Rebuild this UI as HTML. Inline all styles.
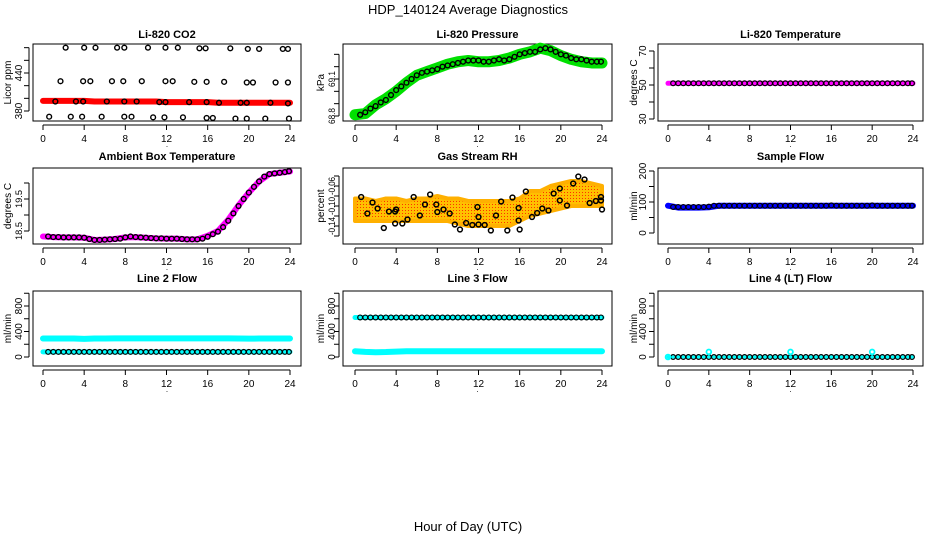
<!DOCTYPE html>
<html><head><meta charset="utf-8"><style>
html,body{margin:0;padding:0;background:#fff;}
svg{display:block;font-family:"Liberation Sans",Arial,sans-serif;}
</style></head><body>
<svg id="chart" width="936" height="540" viewBox="0 0 936 540">
<text x="468" y="14" text-anchor="middle" font-size="13">HDP_140124  Average Diagnostics</text>
<text x="468" y="531" text-anchor="middle" font-size="13">Hour of Day (UTC)</text>
</svg>
<script>
// ---- data ----
const xTicks = [0,4,8,12,16,20,24];
const hourly = [0,1,2,3,4,5,6,7,8,9,10,11,12,13,14,15,16,17,18,19,20,21,22,23,24];
const halfHours = [0.5,1,1.5,2,2.5,3,3.5,4,4.5,5,5.5,6,6.5,7,7.5,8,8.5,9,9.5,10,10.5,11,11.5,12,12.5,13,13.5,14,14.5,15,15.5,16,16.5,17,17.5,18,18.5,19,19.5,20,20.5,21,21.5,22,22.5,23,23.5,23.9];

const co2Band = [396,396,396,396,396,395,395,395,395,395,395,395,394,394,394,394,394,393,393,393,393,393,393,393,393];
const co2Hours = [2.2,4.0,5.1,7.2,7.9,10.2,11.9,13.1,15.2,15.8,18.2,19.9,21.0,23.3,23.8,
 1.7,3.9,4.6,6.7,7.8,9.6,11.9,12.6,14.7,15.9,17.6,19.8,20.4,22.6,23.8,
 1.2,3.2,3.9,6.2,7.9,9.1,11.3,11.9,14.2,15.9,17.1,19.2,19.8,22.1,23.8,
 0.6,2.7,3.8,5.7,7.9,8.6,10.7,11.8,13.6,15.9,16.5,18.7,19.8,21.6,23.9];
const co2Vals = [480,480,480,480,480,480,480,480,479,479,479,478,478,478,478,
 427,427,427,427,427,427,427,427,426,426,426,425,425,425,425,
 395,395,395,395,395,395,394,394,394,394,393,393,393,393,392,
 371,371,371,371,371,371,370,370,370,369,369,368,368,368,368];

const presBand = [68.81,68.82,68.89,68.94,69.00,69.07,69.13,69.16,69.19,69.22,69.24,69.25,69.24,69.24,69.25,69.27,69.30,69.32,69.35,69.33,69.29,69.26,69.24,69.23,69.23];
const presPts = [68.81,68.83,68.86,68.88,68.91,68.93,68.97,69.01,69.04,69.07,69.10,69.13,69.15,69.16,69.17,69.18,69.20,69.21,69.22,69.23,69.24,69.25,69.25,69.25,69.24,69.24,69.25,69.26,69.25,69.26,69.28,69.30,69.31,69.32,69.32,69.34,69.35,69.34,69.32,69.30,69.29,69.27,69.26,69.26,69.25,69.24,69.24,69.24];

const tempBand = [51,51,51,51,51,51,51,51,51,51,51,51,51,51,51,51,51,51,51,51,51,51,51,51,51];
const tempPts = [51,51,51,51,51,51,51,51,51,51,51,51,51,51,51,51,51,51,51,51,51,51,51,51,51,51,51,51,51,51,51,51,51,51,51,51,51,51,51,51,51,51,51,51,51,51,51,51];

const ambBand = [18.33,18.31,18.30,18.30,18.29,18.22,18.23,18.25,18.30,18.31,18.29,18.27,18.26,18.26,18.24,18.24,18.35,18.50,18.85,19.30,19.70,20.05,20.28,20.32,20.36];
const ambPts = [18.33,18.31,18.31,18.30,18.30,18.30,18.30,18.29,18.25,18.22,18.22,18.23,18.24,18.25,18.26,18.30,18.33,18.31,18.30,18.29,18.28,18.27,18.27,18.26,18.26,18.26,18.25,18.24,18.24,18.24,18.26,18.32,18.40,18.48,18.62,18.82,19.05,19.28,19.50,19.70,19.88,20.05,20.20,20.28,20.30,20.32,20.34,20.37];

const rhUpper = [-0.085,-0.085,-0.09,-0.085,-0.085,-0.09,-0.085,-0.085,-0.08,-0.085,-0.085,-0.09,-0.09,-0.09,-0.09,-0.09,-0.085,-0.07,-0.07,-0.06,-0.055,-0.05,-0.05,-0.055,-0.06];
const rhLower = [-0.13,-0.13,-0.13,-0.13,-0.13,-0.13,-0.13,-0.13,-0.13,-0.13,-0.135,-0.14,-0.14,-0.14,-0.14,-0.14,-0.13,-0.12,-0.115,-0.11,-0.105,-0.1,-0.1,-0.1,-0.1];
const rhHours = [0.6,1.2,1.7,2.2,2.8,3.3,3.9,4.0,3.9,4.6,5.1,5.7,6.3,6.8,7.3,7.9,8.0,8.6,9.2,9.7,10.2,10.8,11.4,11.9,12.0,12.0,12.6,13.2,13.7,14.2,14.8,15.3,15.9,15.9,16.0,16.6,17.2,17.7,18.2,18.8,19.3,19.9,19.9,20.6,21.2,21.7,22.3,22.8,23.4,23.9,23.9,24.0];
const rhVals = [-0.082,-0.115,-0.093,-0.105,-0.144,-0.111,-0.111,-0.107,-0.135,-0.135,-0.127,-0.082,-0.119,-0.097,-0.077,-0.097,-0.112,-0.107,-0.115,-0.137,-0.147,-0.134,-0.138,-0.102,-0.122,-0.137,-0.138,-0.149,-0.119,-0.091,-0.149,-0.083,-0.104,-0.129,-0.147,-0.071,-0.122,-0.114,-0.105,-0.109,-0.075,-0.065,-0.089,-0.099,-0.055,-0.041,-0.047,-0.094,-0.090,-0.089,-0.082,-0.107];

const sampleBand = [88,82,82,82,83,88,88,88,88,88,88,88,88,88,88,88,88,88,88,88,88,88,88,88,88];
const samplePts = [84,84,84,84,84,84,84,85,88,88,88,88,88,88,88,88,88,88,88,88,88,88,88,88,88,88,88,88,88,88,88,89,88,88,88,88,88,88,88,89,88,88,88,88,88,88,88,88];

const l2Cyan = [290,290,290,290,285,290,290,292,292,292,292,292,292,292,292,292,292,292,292,290,288,290,290,290,290];
const l2Black = [80,80,80,80,80,80,80,80,80,80,80,80,80,80,80,80,80,80,80,80,80,80,80,80,80,80,80,80,80,80,80,80,80,80,80,80,80,80,80,80,80,80,80,80,80,80,80,80];
const l3CyanTop = [620,620,620,620,620,620,620,620,620,620,620,620,620,620,620,620,620,620,620,620,620,620,620,620,620];
const l3CyanLow = [90,80,75,78,85,90,90,90,90,90,90,90,90,90,90,90,90,90,90,90,90,90,90,90,90];
const l3Black = [620,620,620,620,620,620,620,620,620,620,620,620,620,620,620,620,620,620,620,620,620,620,620,620,620,620,620,620,620,620,620,620,620,620,620,620,620,620,620,620,620,620,620,620,620,620,620,620];
const l4Black = [0,0,0,0,0,0,0,0,0,0,0,0,0,0,0,0,0,0,0,0,0,0,0,0,0,0,0,0,0,0,0,0,0,0,0,0,0,0,0,0,0,0,0,0,0,0,0,0];
const l4CyanHours = [0,4,12,20];
const l4CyanVals = [0,80,80,80];

// ---- layout ----
const NS = "http://www.w3.org/2000/svg";
const svg = document.getElementById('chart');
function mk(tag, attrs, parent){ const e=document.createElementNS(NS,tag); for(const k in attrs) e.setAttribute(k,attrs[k]); (parent||svg).appendChild(e); return e; }

const cols=[{l:33,r:301,x0:43,x24:290,lab:19,tit:7},{l:343,r:612,x0:355,x24:602,lab:332,tit:320},{l:658,r:923,x0:668,x24:913,lab:643,tit:633}];
const rows=[{t:44,b:121,ti:38},{t:168,b:244,ti:160},{t:291,b:366,ti:282}];

function makePanel(name,ci,ri,title,ytitle,v1,y1,v2,y2,ticks,labels,fmt,lblLen){
  const c=cols[ci], r=rows[ri];
  const g=mk('g',{});
  
  
  const p={g, xs:h=>c.x0+(c.x24-c.x0)*h/24, ys:v=>y1+(v-v1)*(y2-y1)/(v2-v1)};
  const t=mk('text',{x:(c.l+c.r)/2,y:r.ti,'text-anchor':'middle','font-size':11,'font-weight':'bold'},g);
  t.textContent=title;
  
  
  const yt=mk('text',{x:0,y:0,'text-anchor':'middle','font-size':10,transform:`translate(${c.tit+4},${(r.t+r.b)/2}) rotate(-90)`},g);
  yt.textContent=ytitle;
  
  
  const box=mk('rect',{x:c.l,y:r.t,width:c.r-c.l,height:r.b-r.t,fill:'none',stroke:'#000','stroke-width':1},g);
  
  
  const bx=r.b+4;
  mk('line',{x1:p.xs(0),x2:p.xs(24),y1:bx,y2:bx,stroke:'#000'},g);
  xTicks.forEach(h=>{
    mk('line',{x1:p.xs(h),x2:p.xs(h),y1:bx,y2:bx+5,stroke:'#000'},g);
    const tl=mk('text',{x:p.xs(h),y:bx+17,'text-anchor':'middle','font-size':10},g);
    tl.textContent=h;
    
    
  });
  const dot=mk('text',{x:(c.l+c.r)/2,y:bx+22,'text-anchor':'middle','font-size':8},g); dot.textContent='.';
  const ax=c.l-4;
  mk('line',{x1:ax,x2:ax,y1:p.ys(ticks[0]),y2:p.ys(ticks[ticks.length-1]),stroke:'#000'},g);
  ticks.forEach(v=>mk('line',{x1:ax-5,x2:ax,y1:p.ys(v),y2:p.ys(v),stroke:'#000'},g));
  labels.forEach(v=>{
    const at={x:0,y:0,'text-anchor':'middle','font-size':10,transform:`translate(${c.lab+3},${p.ys(v)}) rotate(-90)`};
    if(lblLen){ at['textLength']=lblLen; at['lengthAdjust']='spacingAndGlyphs'; at['font-size']=9; }
    const yl=mk('text',at,g);
    yl.textContent=fmt?fmt(v):v;
    
    
  });
  return p;
}
function band(p,xs,vals,color,w,name){
  const pl=mk('polyline',{points:xs.map((h,i)=>p.xs(h)+','+p.ys(vals[i])).join(' '),fill:'none',stroke:color,'stroke-width':w,'stroke-linejoin':'round','stroke-linecap':'round'},p.g);
  
  
}
function circles(p,xs,vals,color,name,sw){
  const g=mk('g',{},p.g);
  
  
  xs.forEach((h,i)=>mk('circle',{cx:p.xs(h),cy:p.ys(vals[i]),r:2.4,fill:'none',stroke:color,'stroke-width':sw||1.4},g));
}

const f2=v=>v.toFixed(2), f1=v=>v.toFixed(1);
let p;
p=makePanel('co2',0,0,'Li-820 CO2','Licor ppm',380,111,440,73,[380,400,420,440,460,480],[380,440]);
band(p,hourly,co2Band,'#ff0000',6,'co2-band');
circles(p,co2Hours,co2Vals,'#000','co2-points');

p=makePanel('pressure',1,0,'Li-820 Pressure','kPa',68.8,116,69.1,79,[68.8,68.9,69.0,69.1,69.2,69.3],[68.8,69.1],f1,16);
band(p,hourly,presBand,'#00e000',11,'pressure-band');
circles(p,halfHours,presPts,'#000','pressure-points');

p=makePanel('temperature',2,0,'Li-820 Temperature','degrees C',30,119,70,51,[30,40,50,60,70],[30,50,70]);
band(p,hourly,tempBand,'#ff00ff',5,'temperature-band');
circles(p,halfHours,tempPts,'#000','temperature-points',1.2);

p=makePanel('ambient',0,1,'Ambient Box Temperature','degrees C',18.5,231,19.5,199,[18.5,19.0,19.5,20.0],[18.5,19.5],f1,18);
band(p,hourly,ambBand,'#ff00ff',6,'ambient-band');
circles(p,halfHours,ambPts,'#000','ambient-points');

p=makePanel('rh',1,1,'Gas Stream RH','percent',-0.06,186,-0.14,226,[-0.04,-0.06,-0.08,-0.10,-0.12,-0.14,-0.16],[-0.06,-0.10,-0.14],f2,18);
{
  const pts=hourly.map((h,i)=>p.xs(h)+','+p.ys(rhUpper[i])).concat(hourly.slice().reverse().map((h,j)=>{const i=hourly.length-1-j;return p.xs(h)+','+p.ys(rhLower[i]);}));
  const defs=mk('defs',{},p.g);
  const pat=mk('pattern',{id:'rhpat',width:3,height:3,patternUnits:'userSpaceOnUse'},defs);
  mk('rect',{width:3,height:3,fill:'#ffc000'},pat);
  mk('rect',{width:1,height:1,fill:'#ff3000'},pat);
  const pg=mk('polygon',{points:pts.join(' '),fill:'url(#rhpat)',stroke:'#ffb000','stroke-width':4,'stroke-linejoin':'round'},p.g);
  
  
}
circles(p,rhHours,rhVals,'#000','rh-points',1.5);

p=makePanel('sample-flow',2,1,'Sample Flow','ml/min',0,233,200,171,[0,50,100,150,200],[0,100,200]);
band(p,hourly,sampleBand,'#0000ff',6,'sample-band');
circles(p,halfHours,samplePts,'#000','sample-points',1.2);

p=makePanel('line2',0,2,'Line 2 Flow','ml/min',0,357,800,306,[0,200,400,600,800,1000],[0,400,800]);
band(p,hourly,l2Cyan,'#00ffff',6,'line2-cyan-band');
band(p,hourly,l2Black.slice(0,25),'#00ffff',5,'line2-cyan-low');
circles(p,halfHours,l2Black,'#000','line2-points',1.2);

p=makePanel('line3',1,2,'Line 3 Flow','ml/min',0,357,800,306,[0,200,400,600,800,1000],[0,400,800]);
band(p,hourly,l3CyanTop,'#00ffff',5,'line3-cyan-top');
band(p,hourly,l3CyanLow,'#00ffff',6,'line3-cyan-low');
circles(p,halfHours,l3Black,'#000','line3-points',1.2);

p=makePanel('line4',2,2,'Line 4 (LT) Flow','ml/min',0,357,800,306,[0,200,400,600,800,1000],[0,400,800]);
band(p,hourly,hourly.map(()=>0),'#00ffff',3,'line4-cyan-band');
circles(p,halfHours,l4Black,'#000','line4-points',1.2);
circles(p,l4CyanHours,l4CyanVals,'#00ffff','line4-cyan-points',1.8);
</script>
</body></html>
